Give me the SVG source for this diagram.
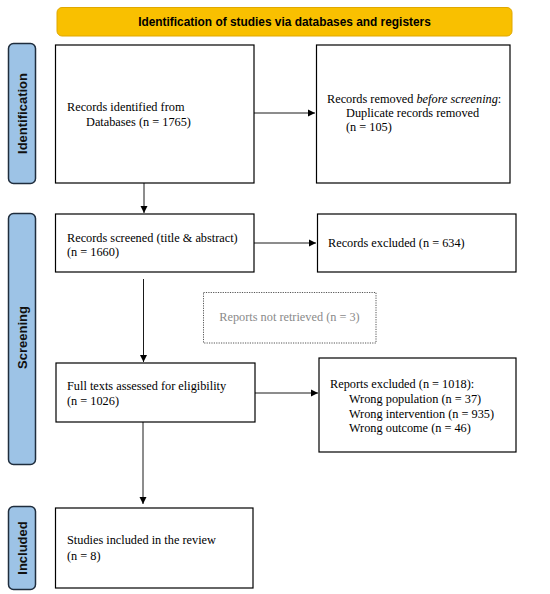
<svg xmlns="http://www.w3.org/2000/svg" width="550" height="594" viewBox="0 0 550 594">
<defs>
<marker id="ah" markerWidth="8" markerHeight="8" refX="7" refY="4" orient="auto" markerUnits="userSpaceOnUse">
<path d="M0,0.5 L7,4 L0,7.5 Z" fill="#000"/>
</marker>
</defs>
<style>
.box{fill:#fff;stroke:#000;stroke-width:1.2}
.side{fill:#9DC3E6;stroke:#1F2D3D;stroke-width:1.5}
.sidet{font-family:"Liberation Sans",Arial,sans-serif;font-weight:bold;font-size:13px;fill:#111;text-anchor:middle}
.t{font-family:"Liberation Serif","Times New Roman",serif;font-size:12.3px;fill:#000}
.c{stroke:#000;stroke-width:0.9;fill:none}
</style>
<rect width="550" height="594" fill="#fff"/>
<g id="header">
<rect x="57" y="7.5" width="455" height="28.5" rx="5" fill="#F9C000" stroke="#E0A800" stroke-width="1"/>
<text x="284.5" y="26" font-family="Liberation Sans, Arial, sans-serif" font-weight="bold" font-size="11.9" text-anchor="middle" fill="#000">Identification of studies via databases and registers</text>
</g>
<g id="side-identification">
<rect class="side" x="8.5" y="43.5" width="27" height="140" rx="5"/>
<text class="sidet" transform="translate(26.5,113.5) rotate(-90)">Identification</text>
</g>
<g id="side-screening">
<rect class="side" x="8.5" y="213.5" width="27" height="251" rx="5"/>
<text class="sidet" transform="translate(26.5,337.5) rotate(-90)">Screening</text>
</g>
<g id="side-included">
<rect class="side" x="8.5" y="506.5" width="27" height="83" rx="5"/>
<text class="sidet" transform="translate(26.5,548) rotate(-90)">Included</text>
</g>
<g id="identified">
<rect class="box" x="55.5" y="45" width="198.5" height="138"/>
<text class="t" x="67" y="111">Records identified from</text>
<text class="t" x="86" y="126">Databases (n = 1765)</text>
</g>
<g id="removed">
<rect class="box" x="316.5" y="45" width="193.5" height="138"/>
<text class="t" x="327" y="103">Records removed <tspan font-style="italic">before screening</tspan>:</text>
<text class="t" x="346" y="117">Duplicate records removed</text>
<text class="t" x="346" y="131">(n = 105)</text>
</g>
<g id="screened">
<rect class="box" x="55.5" y="214" width="198.5" height="58"/>
<text class="t" x="67" y="242">Records screened (title &amp; abstract)</text>
<text class="t" x="67" y="256">(n = 1660)</text>
</g>
<g id="excluded">
<rect class="box" x="317.5" y="214" width="198.5" height="58"/>
<text class="t" x="328" y="247">Records excluded (n = 634)</text>
</g>
<g id="not-retrieved">
<rect x="203.5" y="292.5" width="172.5" height="50.5" fill="#fff" stroke="#555" stroke-width="1" stroke-dasharray="1.2,1.2"/>
<text class="t" x="289.5" y="321" text-anchor="middle" style="fill:#8a8a8a">Reports not retrieved  (n = 3)</text>
</g>
<g id="fulltext">
<rect class="box" x="56" y="363" width="199" height="59"/>
<text class="t" x="67" y="390">Full texts assessed for eligibility</text>
<text class="t" x="67" y="405">(n = 1026)</text>
</g>
<g id="reports-excluded">
<rect class="box" x="319" y="358" width="197" height="94"/>
<text class="t" x="330" y="388">Reports excluded (n = 1018):</text>
<text class="t" x="349" y="403">Wrong population (n = 37)</text>
<text class="t" x="349" y="417.5">Wrong intervention (n = 935)</text>
<text class="t" x="349" y="432">Wrong outcome (n = 46)</text>
</g>
<g id="included">
<rect class="box" x="55.5" y="508" width="197.5" height="80"/>
<text class="t" x="67" y="544">Studies included in the review</text>
<text class="t" x="67" y="560">(n = 8)</text>
</g>
<g id="connectors">
<line class="c" x1="254" y1="113" x2="315" y2="113" marker-end="url(#ah)"/>
<line class="c" x1="144" y1="183" x2="144" y2="213" marker-end="url(#ah)"/>
<line class="c" x1="254" y1="243" x2="316" y2="243" marker-end="url(#ah)"/>
<line class="c" x1="143.5" y1="279" x2="143.5" y2="362" marker-end="url(#ah)"/>
<line class="c" x1="255" y1="393" x2="318" y2="393" marker-end="url(#ah)"/>
<line class="c" x1="143" y1="422" x2="143" y2="504" marker-end="url(#ah)"/>
</g>
</svg>
